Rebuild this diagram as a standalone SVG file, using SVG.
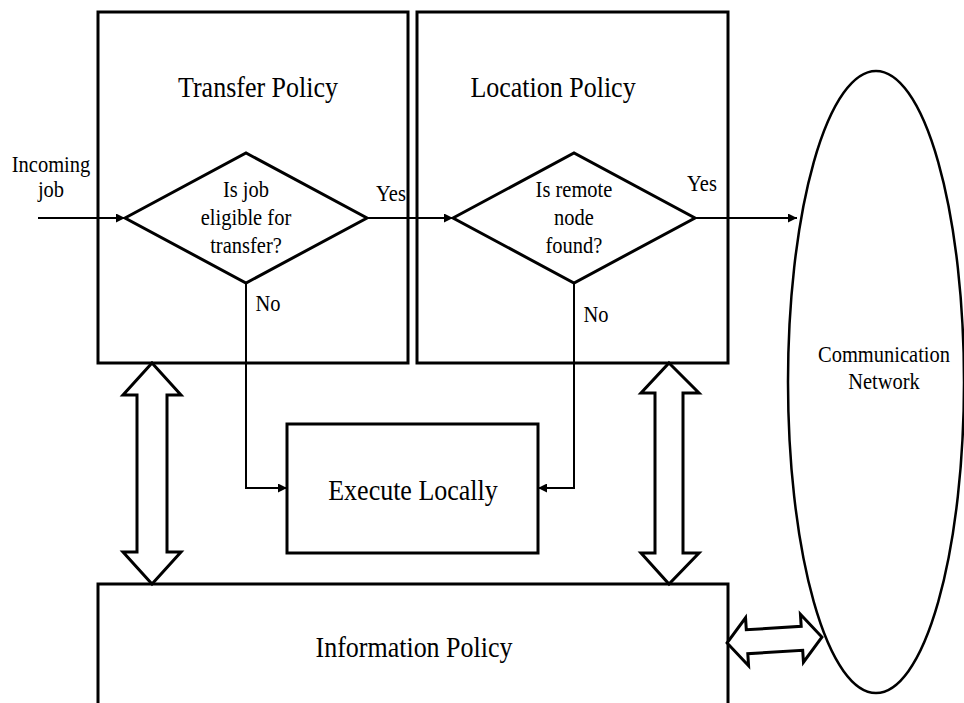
<svg xmlns="http://www.w3.org/2000/svg" width="964" height="703" viewBox="0 0 964 703" font-family="Liberation Serif, Times New Roman, serif">
  <style>
    .box { fill: #fff; stroke: #000; stroke-width: 3; }
    .dia { fill: #fff; stroke: #000; stroke-width: 3; stroke-linejoin: miter; }
    .wire { fill: none; stroke: #000; stroke-width: 2; }
    .dbl { fill: #fff; stroke: #000; stroke-width: 3; stroke-linejoin: miter; }
    text { fill: #000; text-anchor: middle; }
    .big { font-size: 26px; }
    .small { font-size: 20.5px; }
  </style>
  <defs>
    <marker id="head" viewBox="0 0 10 10" refX="10" refY="5" markerWidth="10" markerHeight="9" markerUnits="userSpaceOnUse" orient="auto">
      <path d="M0,0 L10,5 L0,10 z" fill="#000"/>
    </marker>
  </defs>

  <rect width="964" height="703" fill="#fff"/>

  <!-- Network cloud on the right -->
  <g id="network">
    <ellipse cx="876" cy="382" rx="88" ry="311" fill="#fff" stroke="#000" stroke-width="2.5"/>
    <text class="small" font-family="Liberation Serif, serif" transform="translate(884,362) scale(1,1.12)">Communication</text>
    <text class="small" font-family="Liberation Serif, serif" transform="translate(884,389) scale(1,1.12)">Network</text>
  </g>

  <!-- Transfer policy -->
  <g id="transfer-policy">
    <rect class="box" x="98" y="12" width="310" height="351"/>
    <text class="big" font-family="Liberation Serif, serif" transform="translate(258,97) scale(1,1.15)">Transfer Policy</text>
  </g>
  <g id="eligible">
    <polygon class="dia" points="125,218 246,153 367,218 246,283"/>
    <text class="small" font-family="Liberation Serif, serif" transform="translate(246,197) scale(1,1.12)">Is job</text>
    <text class="small" font-family="Liberation Serif, serif" transform="translate(246,225) scale(1,1.12)">eligible for</text>
    <text class="small" font-family="Liberation Serif, serif" transform="translate(246,253) scale(1,1.12)">transfer?</text>
  </g>

  <!-- Location policy -->
  <g id="location-policy">
    <rect class="box" x="417" y="12" width="311" height="351"/>
    <text class="big" font-family="Liberation Serif, serif" transform="translate(553,97) scale(1,1.15)">Location Policy</text>
  </g>
  <g id="remote-found">
    <polygon class="dia" points="453,218 574,153 695,218 574,283"/>
    <text class="small" font-family="Liberation Serif, serif" transform="translate(574,197) scale(1,1.12)">Is remote</text>
    <text class="small" font-family="Liberation Serif, serif" transform="translate(574,225) scale(1,1.12)">node</text>
    <text class="small" font-family="Liberation Serif, serif" transform="translate(574,253) scale(1,1.12)">found?</text>
  </g>

  <!-- Local execution -->
  <g id="execute-locally">
    <rect class="box" x="287" y="424" width="251" height="129"/>
    <text class="big" font-family="Liberation Serif, serif" transform="translate(413,500) scale(1,1.15)">Execute Locally</text>
  </g>

  <!-- Information policy -->
  <g id="information-policy">
    <rect class="box" x="98" y="584" width="630" height="140"/>
    <text class="big" font-family="Liberation Serif, serif" transform="translate(414,657) scale(1,1.15)">Information Policy</text>
  </g>

  <!-- Incoming job label -->
  <g id="incoming">
    <text class="small" font-family="Liberation Serif, serif" transform="translate(51,172) scale(1,1.12)">Incoming</text>
    <text class="small" font-family="Liberation Serif, serif" transform="translate(51,197) scale(1,1.12)">job</text>
  </g>

  <!-- Connectors -->
  <g id="connectors">
    <line class="wire" x1="38" y1="218" x2="125" y2="218" marker-end="url(#head)"/>
    <line class="wire" x1="367" y1="218" x2="453" y2="218" marker-end="url(#head)"/>
    <line class="wire" x1="695" y1="218" x2="797" y2="218" marker-end="url(#head)"/>
    <polyline class="wire" points="246,283 246,488 287,488" marker-end="url(#head)"/>
    <polyline class="wire" points="574,283 574,488 538,488" marker-end="url(#head)"/>

    <text class="small" font-family="Liberation Serif, serif" transform="translate(391,201) scale(1,1.12)">Yes</text>
    <text class="small" font-family="Liberation Serif, serif" transform="translate(702,191) scale(1,1.12)">Yes</text>
    <text class="small" font-family="Liberation Serif, serif" transform="translate(268,311) scale(1,1.12)">No</text>
    <text class="small" font-family="Liberation Serif, serif" transform="translate(596,322) scale(1,1.12)">No</text>

    <!-- Two-way block arrows -->
    <polygon class="dbl" points="152,363 181,395 167,395 167,552 181,552 152,584 123,552 137,552 137,395 123,395"/>
    <polygon class="dbl" points="669,363 699,393 683,393 683,553 699,553 669,584 641,553 655,553 655,393 641,393"/>
    <polygon class="dbl" transform="rotate(-3.6 774.5 640)" points="727,640 747,616 747,628 802,628 802,616 822,640 802,664 802,652 747,652 747,664"/>
  </g>
</svg>
